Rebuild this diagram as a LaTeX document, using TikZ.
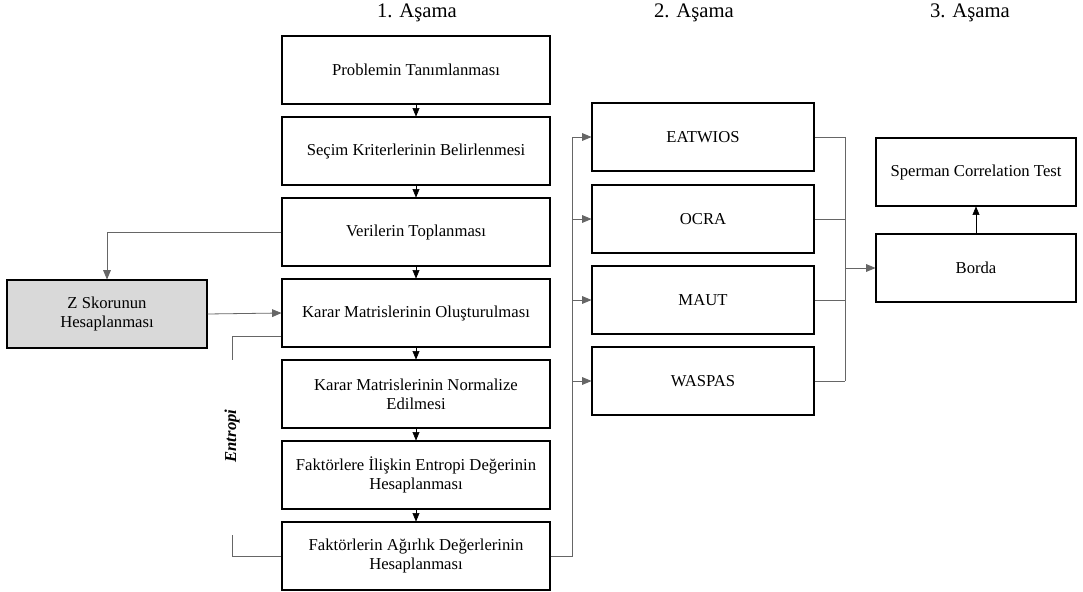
\documentclass[tikz,border=0pt]{standalone}
\usepackage{fontspec}
\setmainfont{Liberation Serif}
\usepackage{tikz}
\usetikzlibrary{arrows}

\tikzset{
adim/.style = {draw, line width=0.8pt, minimum width=201pt, minimum height=51pt, align=center, inner sep=2pt, font=\fontsize{12.5}{14}\selectfont},
yontem/.style = {adim, minimum width=166.5pt},
sonuc/.style = {adim, minimum width=150pt},
con/.style = {draw=black!60, line width=0.6pt},
baslik/.style = {font=\fontsize{15.5}{17}\selectfont}
}

\begin{document}
\begin{tikzpicture}[x=0.75pt, y=-0.75pt, >=triangle 45]
\useasboundingbox (0,0) rectangle (1083,592);
% basliklar
\node[baslik] (h1) at (417,13) {1. Aşama};
\node[baslik] (h2) at (694,13) {2. Aşama};
\node[baslik] (h3) at (970,13) {3. Aşama};
% 1. asama
\node[adim] (prob) at (416,70) {Problemin Tanımlanması};
\node[adim] (secim) at (416,151) {Seçim Kriterlerinin Belirlenmesi};
\node[adim] (veri) at (416,232) {Verilerin Toplanması};
\node[adim] (karar) at (416,313) {Karar Matrislerinin Oluşturulması};
\node[adim] (norm) at (416,394) {Karar Matrislerinin Normalize\\Edilmesi};
\node[adim] (entr) at (416,475) {Faktörlere İlişkin Entropi Değerinin\\Hesaplanması};
\node[adim] (agirlik) at (416,556) {Faktörlerin Ağırlık Değerlerinin\\Hesaplanması};
\node[sonuc, fill=black!15] (zskor) at (107,314) {Z Skorunun\\Hesaplanması};
% 2. asama
\node[yontem] (eat) at (703,137) {EATWIOS};
\node[yontem] (ocra) at (703,219) {OCRA};
\node[yontem] (maut) at (703,300) {MAUT};
\node[yontem] (waspas) at (703,381) {WASPAS};
% 3. asama
\node[sonuc] (sperman) at (976,172) {Sperman Correlation Test};
\node[sonuc] (borda) at (976,268) {Borda};
% oklar
\draw[->] (prob) -- (secim);
\draw[->] (secim) -- (veri);
\draw[->] (veri) -- (karar);
\draw[->] (karar) -- (norm);
\draw[->] (norm) -- (entr);
\draw[->] (entr) -- (agirlik);
\draw[con,->] (veri.west) -| (zskor.north);
\draw[con,->] (zskor.east) -- (karar.west);
% entropi parantezi
\coordinate (ent1) at (232,360);
\coordinate (ent2) at (232,535);
\draw[con] ([yshift=8.25pt]karar.south west) -| (ent1);
\draw[con] (agirlik.west) -| (ent2);
\node[rotate=90, font=\fontsize{12.5}{14}\selectfont\bfseries\itshape] (entropi) at (232,436) {Entropi};
% yontemlere dagitim
\coordinate (bus1) at (572,0);
\draw[con] (agirlik.east) -- (agirlik.east -| bus1) -- (eat.west -| bus1);
\foreach \n in {eat,ocra,maut,waspas}
  \draw[con,->] (\n.west -| bus1) -- (\n.west);
% bordaya toplama
\coordinate (bus2) at (845,0);
\foreach \n in {eat,ocra,maut,waspas}
  \draw[con] (\n.east) -- (\n.east -| bus2);
\draw[con] (eat.east -| bus2) -- (waspas.east -| bus2);
\draw[con,->] (borda.west -| bus2) -- (borda.west);
\draw[->] (borda) -- (sperman);
\end{tikzpicture}
\end{document}
